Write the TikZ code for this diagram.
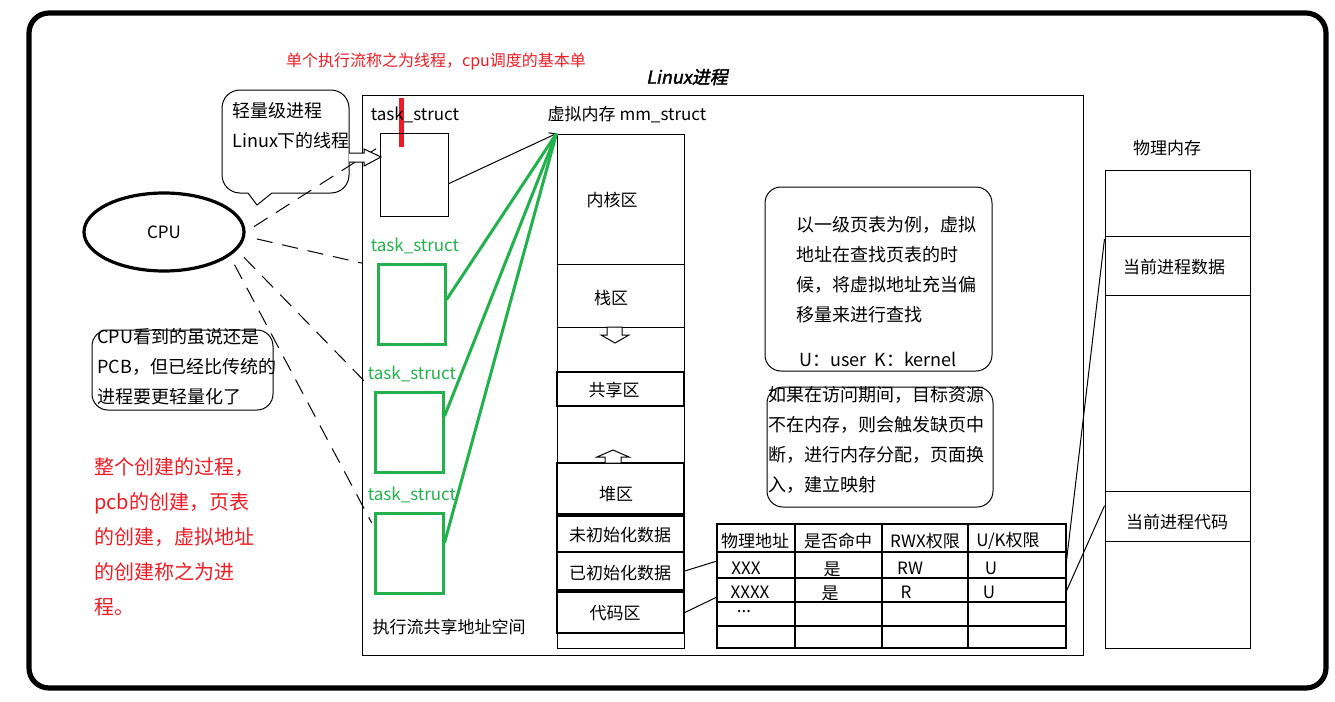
\documentclass[tikz,border=0pt]{standalone}
\usepackage{fontspec}
\setmainfont{Noto Sans CJK SC}
\newfontfamily\ttlfont[FakeSlant=0.2,FakeBold=2]{Noto Sans CJK SC}
\usetikzlibrary{arrows.meta,positioning,fit,shapes.geometric}
\definecolor{gline}{RGB}{34,177,76}
\definecolor{rtext}{RGB}{237,28,36}

\begin{document}
\begin{tikzpicture}[x=0.5pt,y=-0.5pt,
  seg/.style={draw,inner sep=0pt,line width=0.5pt},
  segb/.style={draw,inner sep=0pt,line width=0.8pt},
  gbox/.style={draw=gline,line width=1.5pt,inner sep=0pt},
  lbl/.style={inner sep=0pt,font=\fontsize{8.5}{10}\selectfont},
  para/.style={inner sep=0pt,anchor=north west,align=left,font=\fontsize{9}{15}\selectfont},
  note/.style={draw,rounded corners=8pt,line width=0.5pt},
  cpuline/.style={dash pattern=on 8pt off 5pt,line width=0.5pt},
  hollow/.style={draw,line width=0.5pt,fill=white}]
\useasboundingbox (0,0) rectangle (1335,702);
\draw[line width=2.6pt,rounded corners=10pt] (29,13) rectangle (1326,688);
\node[seg,fit={(362,95) (1083,655)}] (lp) {};
\node[inner sep=0pt,font=\ttlfont\fontsize{9}{10}\selectfont] (ttl) at (687,77) {Linux进程};
\node[inner sep=0pt,text=rtext,font=\fontsize{8}{10}\selectfont] (red1) at (436,62) {单个执行流称之为线程，cpu调度的基本单};
\draw[rtext,line width=2.5pt] (401,98) -- (401,147);
% task_struct
\node[lbl] (t0l) at (415,115) {task\_struct};
\node[seg,fit={(380,133) (448,216)}] (t0) {};
\node[lbl,text=gline] (t1l) at (415,246) {task\_struct};
\node[gbox,fit={(378,264) (445,344)}] (t1) {};
\node[lbl,text=gline] (t2l) at (412,374) {task\_struct};
\node[gbox,fit={(375,392) (443,472)}] (t2) {};
\node[lbl,text=gline] (t3l) at (412,495) {task\_struct};
\node[gbox,fit={(375,513) (443,593)}] (t3) {};
\node[lbl] (share) at (449,627) {执行流共享地址空间};
% mm_struct
\node[lbl] (vml) at (627,115) {虚拟内存 mm\_struct};
\node[seg,fit={(557,134) (684,648)}] (vm) {};
\node[seg,fit={(557,134) (684,264)}] (kern) {};
\node[seg,fit={(557,264) (684,327)}] (stk) {};
\node[segb,fit={(557,372) (684,406)}] (shm) {};
\node[segb,fit={(557,463) (684,514)}] (heap) {};
\node[segb,fit={(557,516) (684,552)}] (bss) {};
\node[segb,fit={(557,552) (684,590)}] (data) {};
\node[segb,fit={(557,592) (684,633)}] (code) {};
\node[lbl] at (612,200) {内核区};
\node[lbl] at (611,298) {栈区};
\node[lbl] at (614,390) {共享区};
\node[lbl] at (616,494) {堆区};
\node[lbl] at (620,535) {未初始化数据};
\node[lbl] at (620,573) {已初始化数据};
\node[lbl] at (615,613) {代码区};
\draw[hollow] (607,327) -- (622,327) -- (622,335) -- (629,335) -- (615,343) -- (601,335) -- (607,335) -- cycle;
\draw[hollow] (605,463) -- (621,463) -- (621,457) -- (629,457) -- (613,450) -- (597,457) -- (605,457) -- cycle;
\draw[line width=0.5pt,-{Straight Barb[length=3pt,width=4pt]}] (t0.-15) -- (vm.north west);
\foreach \t/\a in {t1/7,t2/24,t3/16}
  \draw[gline,line width=1.5pt] (\t.\a) -- (vm.north west);
% cpu
\node[ellipse,draw,line width=1.6pt,minimum width=80pt,minimum height=39pt,font=\fontsize{8.5}{10}\selectfont] (cpu) at (164,232) {CPU};
\draw[cpuline,shorten <=5pt,shorten >=2pt] (cpu.0) -- (t0.141);
\draw[cpuline,shorten <=6pt,shorten >=7pt] (cpu.-3) -- (t1.133);
\draw[cpuline,shorten <=5pt,shorten >=5pt] (cpu.-14) -- (t2.north west);
\draw[cpuline,shorten <=5pt,shorten >=2pt] (cpu.-20) -- (t3.143);
% bubble
\draw[line width=0.5pt] (257,205) -- (248,193) [rounded corners=9pt] -- (222,193) -- (222,90) -- (349,90) -- (349,193) [sharp corners] -- (272,193) -- cycle;
\node[para] (lwp) at (232,102) {轻量级进程\\Linux下的线程};
\draw[hollow] (349,153) -- (364,153) -- (364,149) -- (381,157) -- (364,166) -- (364,162) -- (349,162);
\node[note,fit={(92,330) (273,410)},inner sep=0pt] (cn) {};
\node[para] (cnt) at (97,328) {CPU看到的虽说还是\\PCB，但已经比传统的\\进程要更轻量化了};
\node[para,text=rtext,font=\fontsize{10}{17.5}\selectfont] (red2) at (94,457) {整个创建的过程，\\pcb的创建，页表\\的创建，虚拟地址\\的创建称之为进\\程。};
% notes
\node[note,fit={(765,187) (992,371)},inner sep=0pt] (n1) {};
\node[para] (n1t) at (796,216) {以一级页表为例，虚拟\\地址在查找页表的时\\候，将虚拟地址充当偏\\移量来进行查找};
\node[lbl,font=\fontsize{9}{10}\selectfont,anchor=west] (uk) at (799,359) {U：user\ \ K：kernel};
\node[note,fit={(767,387) (993,507)},inner sep=0pt] (n2) {};
\node[para] (n2t) at (768,386) {如果在访问期间，目标资源\\不在内存，则会触发缺页中\\断，进行内存分配，页面换\\入，建立映射};
% page table
\draw[line width=0.6pt] (717,524) rectangle (1066,648);
\foreach \y in {552,578,602,626} \draw[line width=0.6pt] (717,\y) -- (1066,\y);
\foreach \x in {795,882,968} \draw[line width=0.6pt] (\x,524) -- (\x,648);
\node[lbl] at (755,541) {物理地址};
\node[lbl] at (838,541) {是否命中};
\node[lbl] at (925,541) {RWX权限};
\node[lbl] at (1008,541) {U/K权限};
\node[lbl] at (746,568) {XXX};
\node[lbl] at (832,569) {是};
\node[lbl] at (910,568) {RW};
\node[lbl] at (991,568) {U};
\node[lbl] at (750,592) {XXXX};
\node[lbl] at (830,593) {是};
\node[lbl] at (906,592) {R};
\node[lbl] at (989,592) {U};
\node[lbl] at (744,612) {...};
\coordinate (r1w) at (717,561);
\coordinate (r2w) at (717,597);
\coordinate (r1e) at (1066,565);
\coordinate (r2e) at (1066,592);
\draw[line width=0.5pt] (data.east) -- (r1w);
\draw[line width=0.5pt] (code.east) -- (r2w);
% physical memory
\node[lbl] (pml) at (1167,148) {物理内存};
\node[seg,fit={(1105,170) (1250,648)}] (pm) {};
\node[seg,fit={(1105,236) (1250,295)}] (pd) {};
\node[seg,fit={(1105,491) (1250,541)}] (pc) {};
\node[lbl] at (1174,267) {当前进程数据};
\node[lbl] at (1177,522) {当前进程代码};
\draw[line width=0.5pt] (r1e) -- (pd.160);
\draw[line width=0.5pt] (r2e) -- (pc.172);
\end{tikzpicture}
\end{document}
